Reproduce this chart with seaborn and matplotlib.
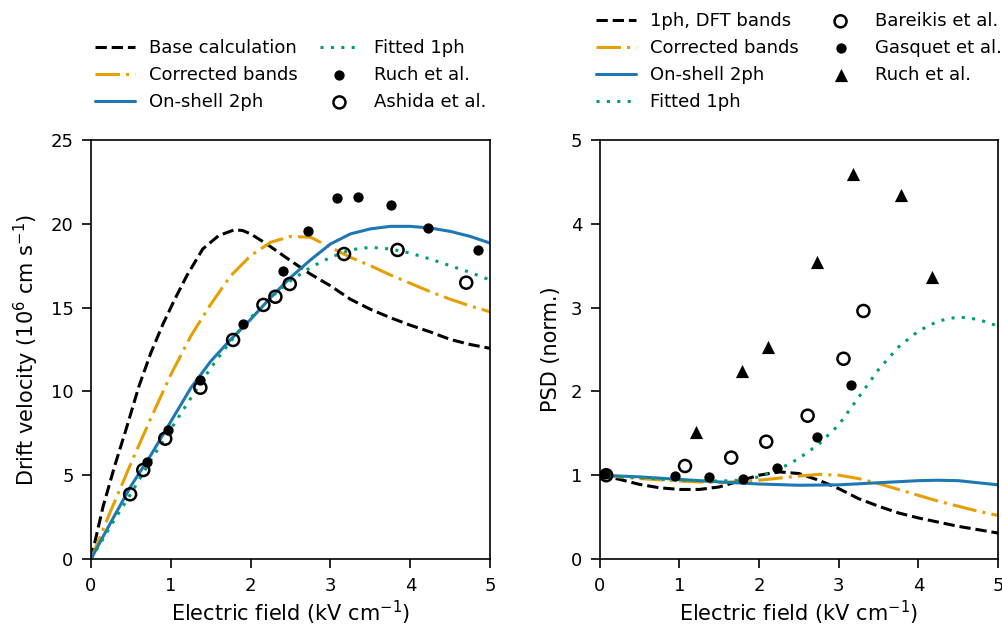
import matplotlib
matplotlib.use("Agg")
import matplotlib.pyplot as plt
import seaborn as sns
import numpy as np

# ---------------- data: left panel (drift velocity) ----------------
base_x = [0, 0.15, 0.3, 0.45, 0.6, 0.75, 0.9, 1.05, 1.2, 1.4, 1.6, 1.8, 1.9, 2.0, 2.2, 2.5, 2.75, 3.0, 3.25, 3.5, 3.75, 4.0, 4.25, 4.5, 4.75, 5.0]
base_y = [0, 3.1, 5.6, 7.9, 10.3, 12.3, 14.0, 15.5, 16.9, 18.5, 19.3, 19.65, 19.6, 19.4, 18.8, 17.8, 17.0, 16.3, 15.5, 14.9, 14.4, 13.95, 13.55, 13.1, 12.8, 12.57]

corr_x = [0, 0.25, 0.5, 0.75, 1.0, 1.25, 1.5, 1.75, 2.0, 2.25, 2.5, 2.75, 3.0, 3.25, 3.5, 3.75, 4.0, 4.25, 4.5, 4.75, 5.0]
corr_y = [0, 2.9, 5.7, 8.4, 11.0, 13.3, 15.2, 16.9, 18.1, 18.9, 19.25, 19.2, 18.6, 18.0, 17.5, 16.95, 16.45, 15.95, 15.5, 15.1, 14.75]

shell_x = [0, 0.25, 0.5, 0.75, 1.0, 1.25, 1.5, 1.75, 2.0, 2.25, 2.5, 2.75, 3.0, 3.25, 3.5, 3.75, 4.0, 4.25, 4.5, 4.75, 5.0]
shell_y = [0, 2.2, 4.35, 6.2, 8.2, 10.2, 11.8, 13.1, 14.3, 15.6, 16.8, 17.85, 18.8, 19.4, 19.7, 19.85, 19.85, 19.75, 19.55, 19.25, 18.85]

fit_x = [0, 0.25, 0.5, 0.75, 1.0, 1.25, 1.5, 1.75, 2.0, 2.25, 2.5, 2.75, 3.0, 3.25, 3.5, 3.75, 4.0, 4.25, 4.5, 4.75, 5.0]
fit_y = [0, 2.0, 3.9, 5.9, 7.75, 9.6, 11.4, 13.0, 14.4, 15.6, 16.6, 17.4, 18.0, 18.45, 18.6, 18.5, 18.25, 17.9, 17.5, 17.1, 16.65]

ruch_v_x = [0.70, 0.96, 1.36, 1.90, 2.41, 2.72, 3.08, 3.35, 3.76, 4.22, 4.85]
ruch_v_y = [5.77, 7.70, 10.68, 14.02, 17.17, 19.59, 21.56, 21.62, 21.10, 19.73, 18.44]

ashida_x = [0.49, 0.655, 0.93, 1.37, 1.78, 2.16, 2.31, 2.49, 3.17, 3.84, 4.70]
ashida_y = [3.86, 5.31, 7.18, 10.22, 13.07, 15.16, 15.65, 16.41, 18.20, 18.44, 16.49]

# ---------------- data: right panel (PSD) ----------------
dft_x = [0, 0.25, 0.5, 0.75, 1.0, 1.25, 1.5, 1.75, 2.0, 2.25, 2.5, 2.75, 3.0, 3.25, 3.5, 3.75, 4.0, 4.25, 4.5, 4.75, 5.0]
dft_y = [1.0, 0.95, 0.89, 0.85, 0.83, 0.83, 0.86, 0.93, 1.0, 1.04, 1.02, 0.94, 0.84, 0.72, 0.63, 0.55, 0.49, 0.44, 0.39, 0.35, 0.31]

pcorr_x = [0, 0.5, 1.0, 1.5, 2.0, 2.5, 2.75, 3.0, 3.25, 3.5, 3.75, 4.0, 4.25, 4.5, 4.75, 5.0]
pcorr_y = [1.0, 0.96, 0.93, 0.91, 0.94, 0.99, 1.01, 1.0, 0.96, 0.90, 0.83, 0.76, 0.69, 0.63, 0.57, 0.52]

pshell_x = [0, 0.5, 1.0, 1.5, 2.0, 2.5, 3.0, 3.5, 4.0, 4.25, 4.5, 5.0]
pshell_y = [1.0, 0.98, 0.95, 0.92, 0.895, 0.88, 0.885, 0.91, 0.935, 0.94, 0.935, 0.885]

pfit_x = [0, 0.5, 1.0, 1.5, 1.75, 2.0, 2.25, 2.5, 2.75, 3.0, 3.25, 3.5, 3.75, 4.0, 4.25, 4.5, 4.75, 5.0]
pfit_y = [1.0, 0.97, 0.94, 0.93, 0.94, 0.98, 1.07, 1.20, 1.37, 1.60, 1.93, 2.26, 2.53, 2.72, 2.84, 2.89, 2.86, 2.78]

bareikis_x = [0.08, 1.07, 1.65, 2.09, 2.61, 3.06, 3.31]
bareikis_y = [1.00, 1.11, 1.21, 1.40, 1.71, 2.39, 2.96]

gasquet_x = [0.06, 0.95, 1.37, 1.80, 2.23, 2.73, 3.16]
gasquet_y = [1.02, 0.99, 0.975, 0.96, 1.09, 1.46, 2.08]

ruch_p_x = [1.21, 1.79, 2.11, 2.73, 3.18, 3.78, 4.17]
ruch_p_y = [1.52, 2.24, 2.53, 3.54, 4.60, 4.34, 3.37]

BLACK = "black"
ORANGE = "#E69F00"
BLUE = "#1f77b4"
GREEN = "#009E73"

sns.set_theme(style="ticks")
plt.rcParams["font.family"] = ["DejaVu Sans"]
plt.rcParams["font.size"] = 13
plt.rcParams["axes.labelsize"] = 15
plt.rcParams["xtick.labelsize"] = 13
plt.rcParams["ytick.labelsize"] = 13
plt.rcParams["legend.fontsize"] = 13
plt.rcParams["axes.edgecolor"] = "black"
plt.rcParams["xtick.color"] = "black"
plt.rcParams["ytick.color"] = "black"
plt.rcParams["axes.labelcolor"] = "black"
plt.rcParams["text.color"] = "black"
plt.rcParams["axes.linewidth"] = 1.2

fig = plt.figure(figsize=(10.03, 6.30), dpi=100)
ax1 = fig.add_axes([0.0907, 0.1127, 0.398, 0.665])
ax2 = fig.add_axes([0.598, 0.1127, 0.397, 0.665])

LW = 2.2
DASH = (0, (3.7, 1.6))
DASHDOT = (0, (8.0, 2.0, 1.0, 2.0))
DOT = (0, (1.0, 2.4))


def curve(ax, x, y, color, ls, label):
    sns.lineplot(x=x, y=y, ax=ax, color=color, linestyle=ls, linewidth=LW,
                 label=label, estimator=None, sort=False)


# Left panel
curve(ax1, base_x, base_y, BLACK, DASH, "Base calculation")
curve(ax1, corr_x, corr_y, ORANGE, DASHDOT, "Corrected bands")
curve(ax1, shell_x, shell_y, BLUE, "-", "On-shell 2ph")
curve(ax1, fit_x, fit_y, GREEN, DOT, "Fitted 1ph")
sns.scatterplot(x=ruch_v_x, y=ruch_v_y, ax=ax1, marker="o", s=55, color="black",
                edgecolor="black", linewidth=0, label="Ruch et al.", zorder=5)
sns.scatterplot(x=ashida_x, y=ashida_y, ax=ax1, marker="o", s=75, facecolor="none",
                edgecolor="black", linewidth=1.8, label="Ashida et al.", zorder=5)

ax1.set_xlim(0, 5)
ax1.set_ylim(0, 25)
ax1.set_xticks([0, 1, 2, 3, 4, 5])
ax1.set_yticks([0, 5, 10, 15, 20, 25])
ax1.set_xlabel("Electric field (kV cm$^{-1}$)", labelpad=3)
ax1.set_ylabel("Drift velocity (10$^6$ cm s$^{-1}$)", labelpad=7)
ax1.legend(loc="lower center", bbox_to_anchor=(0.5, 1.0), ncol=2, frameon=False,
           handlelength=2.2, columnspacing=1.2, borderaxespad=1.2)

# Right panel
curve(ax2, dft_x, dft_y, BLACK, DASH, "1ph, DFT bands")
curve(ax2, pcorr_x, pcorr_y, ORANGE, DASHDOT, "Corrected bands")
curve(ax2, pshell_x, pshell_y, BLUE, "-", "On-shell 2ph")
curve(ax2, pfit_x, pfit_y, GREEN, DOT, "Fitted 1ph")
sns.scatterplot(x=bareikis_x, y=bareikis_y, ax=ax2, marker="o", s=75, facecolor="none",
                edgecolor="black", linewidth=1.8, label="Bareikis et al.", zorder=5)
sns.scatterplot(x=gasquet_x, y=gasquet_y, ax=ax2, marker="o", s=55, color="black",
                edgecolor="black", linewidth=0, label="Gasquet et al.", zorder=5)
sns.scatterplot(x=ruch_p_x, y=ruch_p_y, ax=ax2, marker="^", s=90, color="black",
                edgecolor="black", linewidth=0, label="Ruch et al.", zorder=5)

ax2.set_xlim(0, 5)
ax2.set_ylim(0, 5)
ax2.set_xticks([0, 1, 2, 3, 4, 5])
ax2.set_yticks([0, 1, 2, 3, 4, 5])
ax2.set_xlabel("Electric field (kV cm$^{-1}$)", labelpad=3)
ax2.set_ylabel("PSD (norm.)", labelpad=7)
ax2.legend(loc="lower center", bbox_to_anchor=(0.5, 1.0), ncol=2, frameon=False,
           handlelength=2.2, columnspacing=1.2, borderaxespad=1.2)

for ax in (ax1, ax2):
    ax.tick_params(axis="both", direction="out", length=6.5, width=1.2)
    ax.tick_params(axis="x", pad=6.5)
    ax.tick_params(axis="y", pad=6)

fig.savefig("out.png", dpi=100)
